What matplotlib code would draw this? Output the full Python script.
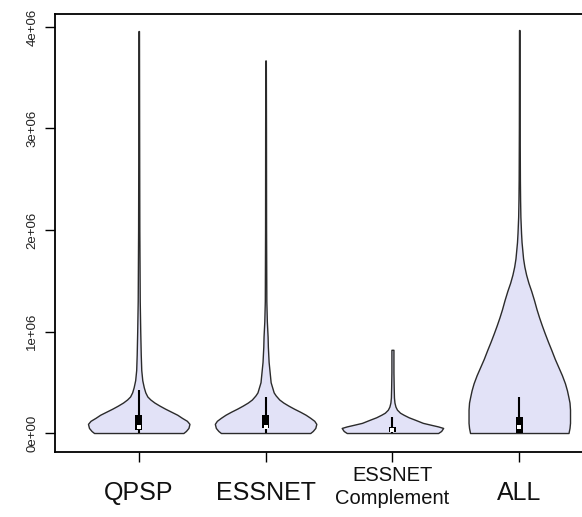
import numpy as np
import matplotlib
matplotlib.use("Agg")
import matplotlib.pyplot as plt
import matplotlib.transforms as mtransforms

plt.rcParams["font.family"] = ["Liberation Sans", "DejaVu Sans"]

# Group names shown under each violin
categories = ["QPSP", "ESSNET", "ESSNET\nComplement", "ALL"]

# Density profiles: value levels (millions) and relative density at each level
qpsp_levels = [0.0, 0.02, 0.05, 0.09, 0.12, 0.15, 0.18, 0.21, 0.24, 0.27, 0.30, 0.33,
               0.36, 0.40, 0.45, 0.52, 0.62, 0.77, 1.0, 1.3, 2.0, 3.0, 3.96]
qpsp_density = [0.88, 0.93, 0.98, 1.0, 0.95, 0.85, 0.76, 0.64, 0.52, 0.41, 0.31, 0.23,
                0.17, 0.13, 0.10, 0.07, 0.05, 0.04, 0.03, 0.02, 0.012, 0.008, 0.005]

essnet_levels = [0.0, 0.02, 0.05, 0.09, 0.12, 0.15, 0.18, 0.21, 0.24, 0.27, 0.30, 0.33,
                 0.37, 0.40, 0.45, 0.50, 0.60, 0.70, 0.85, 0.95, 1.1, 1.3, 2.0, 3.0, 3.67]
essnet_density = [0.88, 0.93, 0.98, 1.0, 0.96, 0.88, 0.79, 0.68, 0.56, 0.45, 0.35, 0.27,
                  0.20, 0.16, 0.13, 0.10, 0.08, 0.06, 0.045, 0.04, 0.025, 0.015, 0.01, 0.008, 0.005]

compl_levels = [0.0, 0.02, 0.05, 0.065, 0.08, 0.10, 0.13, 0.155, 0.18, 0.20, 0.23, 0.26,
                0.30, 0.35, 0.45, 0.60, 0.82]
compl_density = [0.9, 0.96, 1.0, 0.9, 0.77, 0.6, 0.45, 0.32, 0.22, 0.15, 0.09, 0.06,
                 0.04, 0.03, 0.025, 0.02, 0.02]

all_levels = [0.0, 0.05, 0.1, 0.23, 0.30, 0.35, 0.42, 0.49, 0.57, 0.65, 0.73, 0.82, 0.90,
              0.985, 1.06, 1.14, 1.22, 1.31, 1.40, 1.48, 1.56, 1.64, 1.72, 1.80, 1.88,
              1.97, 2.13, 2.3, 2.5, 3.0, 3.97]
all_density = [0.97, 0.99, 1.0, 1.0, 0.99, 0.97, 0.94, 0.9, 0.84, 0.77, 0.70, 0.63, 0.565,
               0.5, 0.445, 0.39, 0.34, 0.29, 0.235, 0.18, 0.135, 0.10, 0.075, 0.06, 0.045,
               0.035, 0.022, 0.016, 0.012, 0.008, 0.005]

# Box summaries (millions): lower whisker, Q1, median, Q3, upper whisker
whisker_low = [0.0, 0.0, 0.0, 0.0]
q1 = [0.03, 0.05, 0.01, 0.0]
median = [0.06, 0.06, 0.03, 0.06]
q3 = [0.18, 0.18, 0.06, 0.16]
whisker_high = [0.42, 0.355, 0.16, 0.355]

y_ticks = [0, 1e6, 2e6, 3e6, 4e6]
y_tick_labels = ["0e+00", "1e+06", "2e+06", "3e+06", "4e+06"]

profiles = [
    (qpsp_levels, qpsp_density),
    (essnet_levels, essnet_density),
    (compl_levels, compl_density),
    (all_levels, all_density),
]

vpstats = []
for (lv, dens), med in zip(profiles, median):
    coords = np.asarray(lv) * 1e6
    vpstats.append({
        "coords": coords,
        "vals": np.asarray(dens),
        "mean": med * 1e6,
        "median": med * 1e6,
        "min": coords[0],
        "max": coords[-1],
    })

fig = plt.figure(figsize=(5.82, 5.17), dpi=100)
ax = fig.add_axes([55 / 582, 65 / 517, 548 / 582, 438 / 517])

positions = np.arange(1, len(categories) + 1)
parts = ax.violin(vpstats, positions=positions, widths=0.8,
                  showmeans=False, showextrema=False, showmedians=False)
for body in parts["bodies"]:
    body.set_facecolor("#E2E2F7")
    body.set_edgecolor("#2b2b2b")
    body.set_linewidth(1.0)
    body.set_alpha(1.0)

lo = np.asarray(whisker_low) * 1e6
hi = np.asarray(whisker_high) * 1e6
b1 = np.asarray(q1) * 1e6
b3 = np.asarray(q3) * 1e6
md = np.asarray(median) * 1e6
ax.vlines(positions, lo, hi, colors="black", linewidth=1.5, zorder=3)
ax.bar(positions, b3 - b1, bottom=b1, width=0.055, color="black", zorder=4)
ax.scatter(positions, md, s=9, marker="s", color="white", zorder=5, linewidths=0)

ax.set_xlim(0.34, 4.66)
ax.set_ylim(-0.187e6, 4.128e6)

ax.set_yticks(y_ticks)
ax.set_yticklabels(y_tick_labels, rotation=90, va="center", fontsize=9.5, color="#222222")
ax.set_xticks(positions)
ax.set_xticklabels([])
ax.tick_params(axis="both", direction="out", length=7, width=1.0, color="black")
ax.tick_params(axis="y", pad=5)

for sp in ax.spines.values():
    sp.set_linewidth(1.3)
    sp.set_color("black")

trans = mtransforms.blended_transform_factory(ax.transData, ax.transAxes)
for pos, name in zip(positions, categories):
    if "\n" in name:
        ax.text(pos, -0.080, name, transform=trans, ha="center", va="center",
                fontsize=14.5, linespacing=1.3, color="#111111")
    else:
        ax.text(pos, -0.094, name, transform=trans, ha="center", va="center",
                fontsize=18, color="#111111")

fig.savefig("out.png", dpi=100)
